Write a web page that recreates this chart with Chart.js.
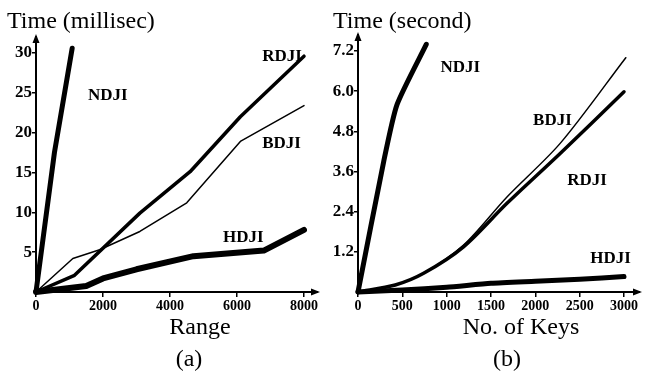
<!DOCTYPE html>
<html>
<head>
<meta charset="utf-8">
<script src="https://cdn.jsdelivr.net/npm/chart.js@4.4.1/dist/chart.umd.min.js"></script>
<style>
    body { margin: 0; background: #fff; }
    .wrap { position: relative; width: 646px; height: 376px; }
    canvas { position: absolute; top: 0; }
</style>
</head>
<body>
<div class="wrap">
    <canvas id="rangeChart" width="323" height="376" style="left:0"></canvas>
    <canvas id="keysChart" width="323" height="376" style="left:323px"></canvas>
</div>
<script>
// (a) join time vs. range, in milliseconds
const rangeTicks = [0, 2000, 4000, 6000, 8000];
const msTicks = [5, 10, 15, 20, 25, 30];

const ndjiRangeX = [0, 550, 1080];
const ndjiRangeY = [0, 17.5, 30.6];
const rdjiRangeX = [0, 1150, 3100, 4600, 6100, 8000];
const rdjiRangeY = [0, 2.1, 9.9, 15.1, 22.0, 29.6];
const bdjiRangeX = [0, 1100, 1900, 3100, 4500, 6100, 8000];
const bdjiRangeY = [0, 4.2, 5.3, 7.6, 11.2, 18.9, 23.4];
const hdjiRangeX = [0, 1500, 2000, 3000, 4700, 6800, 8000];
const hdjiRangeY = [0, 0.75, 1.7, 2.85, 4.5, 5.2, 7.8];

// (b) join time vs. number of keys, in seconds
const keyTicks = [0, 500, 1000, 1500, 2000, 2500, 3000];
const secTicks = [1.2, 2.4, 3.6, 4.8, 6.0, 7.2];

const ndjiKeysX = [0, 290, 440, 770];
const ndjiKeysY = [0, 3.9, 5.6, 7.4];
const bdjiKeysX = [0, 420, 740, 1190, 1680, 2280, 3020];
const bdjiKeysY = [0, 0.21, 0.56, 1.4, 2.84, 4.44, 7.0];
const rdjiKeysX = [0, 420, 740, 1190, 1680, 2280, 3000];
const rdjiKeysY = [0, 0.21, 0.56, 1.35, 2.65, 4.14, 5.98];
const hdjiKeysX = [0, 500, 1000, 1500, 2000, 2500, 3000];
const hdjiKeysY = [0, 0.06, 0.14, 0.26, 0.32, 0.38, 0.46];

const SERIF = '"Liberation Serif", "DejaVu Serif", serif';

function points(xs, ys) {
    return xs.map((x, i) => ({ x: x, y: ys[i] }));
}

function series(xs, ys, width, tag, tension) {
    return {
        data: points(xs, ys),
        borderColor: '#000',
        borderWidth: width,
        pointRadius: 0,
        tension: tension || 0,
        borderCapStyle: 'round',
        borderJoinStyle: 'round',
        fill: false,
        tag: tag
    };
}

// draws axis arrows, curve names and the free text around the plot
const annotate = {
    id: 'annotate',
    afterDraw(chart, args, opts) {
        const { ctx, chartArea: a, scales } = chart;
        ctx.save();
        ctx.strokeStyle = '#000';
        ctx.fillStyle = '#000';
        ctx.lineWidth = 2;

        // x axis arrow
        ctx.beginPath();
        ctx.moveTo(a.right, a.bottom);
        ctx.lineTo(a.right + opts.arrowX, a.bottom);
        ctx.stroke();
        ctx.beginPath();
        ctx.moveTo(a.right + opts.arrowX + 2, a.bottom);
        ctx.lineTo(a.right + opts.arrowX - 7, a.bottom - 3.5);
        ctx.lineTo(a.right + opts.arrowX - 7, a.bottom + 3.5);
        ctx.closePath();
        ctx.fill();

        // y axis arrow
        ctx.beginPath();
        ctx.moveTo(a.left, a.top);
        ctx.lineTo(a.left, a.top - opts.arrowY);
        ctx.stroke();
        ctx.beginPath();
        ctx.moveTo(a.left, a.top - opts.arrowY - 2);
        ctx.lineTo(a.left - 3.5, a.top - opts.arrowY + 7);
        ctx.lineTo(a.left + 3.5, a.top - opts.arrowY + 7);
        ctx.closePath();
        ctx.fill();

        // curve names
        ctx.font = 'bold 17px ' + SERIF;
        ctx.textAlign = 'left';
        ctx.textBaseline = 'alphabetic';
        chart.data.datasets.forEach(ds => {
            if (!ds.tag) return;
            ctx.fillText(ds.tag.text, scales.x.getPixelForValue(ds.tag.x), scales.y.getPixelForValue(ds.tag.y));
        });

        // titles
        ctx.font = '24px ' + SERIF;
        ctx.fillText(opts.yTitle, opts.yTitleX, 28);
        ctx.textAlign = 'center';
        ctx.fillText(opts.xTitle, opts.xTitleX, 334);
        ctx.fillText(opts.caption, opts.captionX, 366);
        ctx.restore();
    }
};

function axes(xMax, xTicks, yMax, yTicks, yFmt, yWidth) {
    return {
        x: {
            type: 'linear',
            min: 0,
            max: xMax,
            afterBuildTicks: scale => { scale.ticks = xTicks.map(v => ({ value: v })); },
            ticks: {
                color: '#000',
                font: { family: SERIF, size: 14, weight: 'bold' },
                padding: 1,
                maxRotation: 0,
                autoSkip: false,
                callback: v => String(v)
            },
            grid: { drawOnChartArea: false, tickLength: 5, color: '#000', lineWidth: 1.5 },
            border: { color: '#000', width: 2 },
            afterFit: scale => { scale.height = 84; }
        },
        y: {
            type: 'linear',
            min: 0,
            max: yMax,
            afterBuildTicks: scale => { scale.ticks = yTicks.map(v => ({ value: v })); },
            ticks: {
                color: '#000',
                font: { family: SERIF, size: 17, weight: 'bold' },
                padding: 0,
                autoSkip: false,
                callback: yFmt
            },
            grid: { drawOnChartArea: false, tickLength: 4, color: '#000', lineWidth: 1.5 },
            border: { color: '#000', width: 2 },
            afterFit: scale => { scale.width = yWidth; }
        }
    };
}

new Chart(document.getElementById('rangeChart').getContext('2d'), {
    type: 'line',
    data: {
        datasets: [
            series(ndjiRangeX, ndjiRangeY, 5, { text: 'NDJI', x: 1550, y: 24.1 }),
            series(rdjiRangeX, rdjiRangeY, 3.5, { text: 'RDJI', x: 6750, y: 29.0 }),
            series(bdjiRangeX, bdjiRangeY, 1.5, { text: 'BDJI', x: 6750, y: 18.1 }),
            series(hdjiRangeX, hdjiRangeY, 6, { text: 'HDJI', x: 5580, y: 6.3 })
        ]
    },
    options: {
        responsive: false,
        animation: false,
        devicePixelRatio: 1,
        clip: false,
        layout: { padding: { top: 53, right: 19, left: 0, bottom: 0 } },
        scales: axes(8000, rangeTicks, 30, msTicks, v => String(v), 36),
        plugins: {
            legend: { display: false },
            tooltip: { enabled: false },
            annotate: {
                arrowX: 14, arrowY: 17,
                yTitle: 'Time (millisec)', yTitleX: 7,
                xTitle: 'Range', xTitleX: 200,
                caption: '(a)', captionX: 189
            }
        }
    },
    plugins: [annotate]
});

new Chart(document.getElementById('keysChart').getContext('2d'), {
    type: 'line',
    data: {
        datasets: [
            series(ndjiKeysX, ndjiKeysY, 5, { text: 'NDJI', x: 930, y: 6.57 }, 0.2),
            series(bdjiKeysX, bdjiKeysY, 1.5, { text: 'BDJI', x: 1975, y: 4.99 }, 0.3),
            series(rdjiKeysX, rdjiKeysY, 3.5, { text: 'RDJI', x: 2360, y: 3.19 }, 0.3),
            series(hdjiKeysX, hdjiKeysY, 5, { text: 'HDJI', x: 2620, y: 0.87 }, 0.2)
        ]
    },
    options: {
        responsive: false,
        animation: false,
        devicePixelRatio: 1,
        clip: false,
        layout: { padding: { top: 51, right: 22, left: 0, bottom: 0 } },
        scales: axes(3000, keyTicks, 7.2, secTicks, v => v.toFixed(1), 35),
        plugins: {
            legend: { display: false },
            tooltip: { enabled: false },
            annotate: {
                arrowX: 16, arrowY: 17,
                yTitle: 'Time (second)', yTitleX: 10,
                xTitle: 'No. of Keys', xTitleX: 198,
                caption: '(b)', captionX: 184
            }
        }
    },
    plugins: [annotate]
});
</script>
</body>
</html>
